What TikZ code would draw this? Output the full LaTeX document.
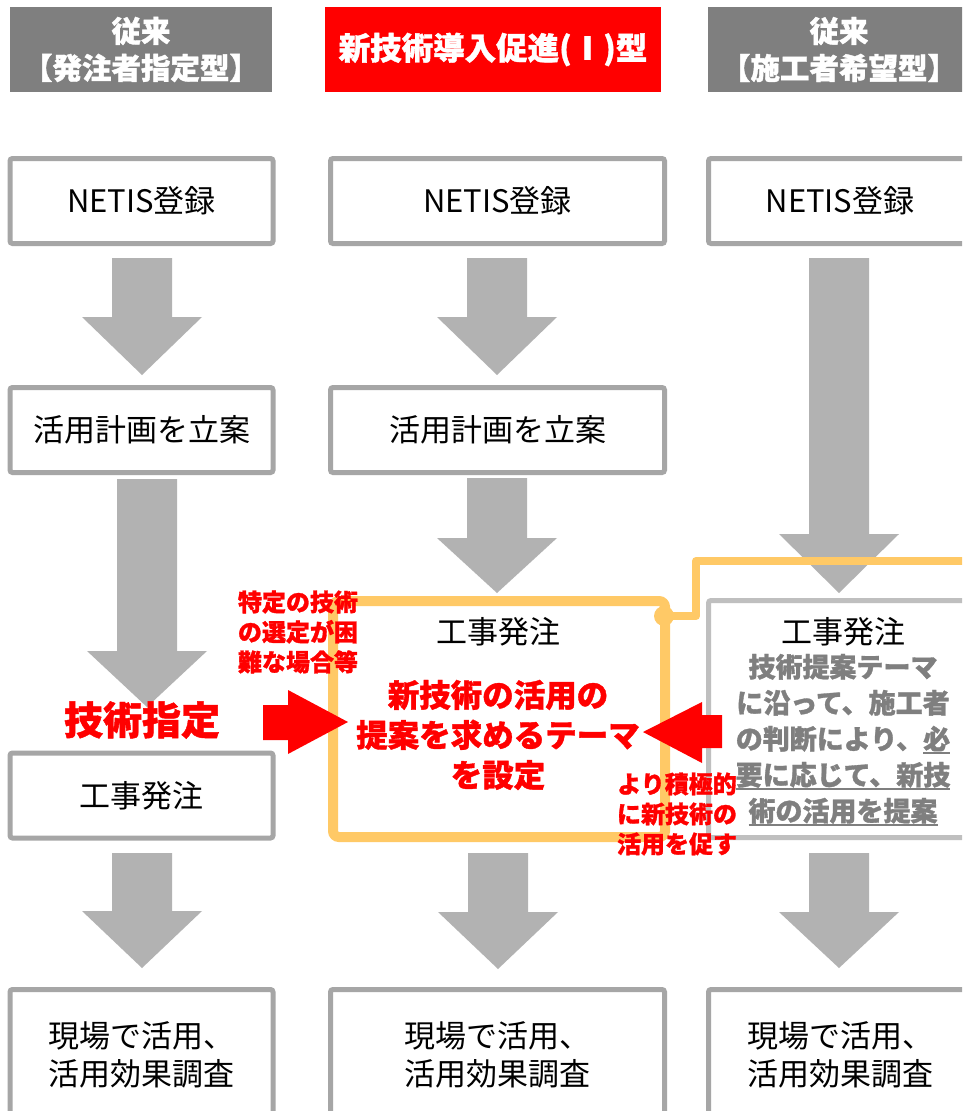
\documentclass[tikz,border=0pt]{standalone}
\usepackage{fontspec}
\setmainfont{Noto Sans CJK JP}[BoldFeatures={FakeBold=1.2}]
\definecolor{boxgray}{HTML}{A6A6A6}
\definecolor{boxlight}{HTML}{BFBFBF}
\definecolor{arrowgray}{HTML}{B2B2B2}
\definecolor{headgray}{HTML}{7F7F7F}
\definecolor{ylw}{HTML}{FFC966}
\definecolor{txtgray}{HTML}{7F7F7F}
\definecolor{redc}{HTML}{FF0000}
\newcommand\ulx[1]{\setbox0\hbox{#1}\rlap{\rule[-5pt]{\wd0}{2pt}}\box0}
\newcommand\garrow[4]{\fill[arrowgray] (#1-30,#2) -- (#1+30,#2) -- (#1+30,#3) -- (#1+60,#3) -- (#1,#4) -- (#1-60,#3) -- (#1-30,#3) -- cycle;}
\tikzset{
  box/.style={draw=boxgray, line width=5pt, rounded corners=2.5pt, fill=white, inner sep=0pt, align=center, font=\fontsize{31}{38}\selectfont},
  boxn/.style={box, minimum width=263pt, minimum height=85pt},
  boxw/.style={box, minimum width=334pt, minimum height=85pt},
  head/.style={fill=headgray, text=white, minimum height=85pt, inner sep=0pt, align=center, font=\bfseries\fontsize{29.5}{37}\selectfont},
  plain/.style={inner sep=0pt, align=center, font=\fontsize{31}{38}\selectfont},
  redsmall/.style={inner sep=0pt, align=center, text=redc, font=\bfseries\fontsize{24}{30}\selectfont},
  yline/.style={draw=ylw, line width=8pt},
}
\begin{document}
\begin{tikzpicture}[x=1pt,y=-1pt]
\clip (0,0) rectangle (962,1111);
\fill[white] (0,0) rectangle (962,1111);
% headers
\node[head, minimum width=262pt] (h1) at (141,49.5) {従来\\【発注者指定型】};
\node[head, fill=redc, minimum width=336pt, font=\bfseries\fontsize{31.5}{37}\selectfont] (h2) at (493,49.5) {新技術導入促進(Ⅰ)型};
\node[head, minimum width=262pt] (h3) at (839,49.5) {従来\\【施工者希望型】};
% gray block arrows
\garrow{142}{258}{317}{375}
\garrow{497}{258}{317}{375}
\garrow{839}{258}{534}{593}
\garrow{147}{479}{651}{707}
\garrow{497}{478}{538}{593}
\garrow{142}{853}{911}{968}
\garrow{498}{853}{912}{969}
\garrow{839}{853}{912}{968}
% row 1
\node[boxn] (a1) at (141.5,201) {NETIS登録};
\node[boxw] (b1) at (497.5,201) {NETIS登録};
\node[boxn] (c1) at (840,201) {NETIS登録};
% row 2
\node[boxn] (a2) at (141.5,430) {活用計画を立案};
\node[boxw] (b2) at (497.5,430) {活用計画を立案};
% row 3
\node[boxn] (a3) at (141.5,795.5) {工事発注};
\node[box, draw=boxlight, minimum width=263pt, minimum height=237pt] (c3) at (840,719) {};
% yellow connector
\coordinate (jn) at (664,616);
\coordinate (jc) at (696,614);
\coordinate (jt) at (696,561);
\coordinate (je) at (990,561);
\draw[yline, line join=round] (jn) -- (jn -| jc) -- (jt) -- (je);
\node[draw=ylw, line width=10pt, rounded corners=6pt, minimum width=332pt, minimum height=236pt, inner sep=0pt] (b3) at (499,719) {};
\fill[ylw] (jn) circle (10);
% row 4
\node[boxn, minimum height=130pt] (a4) at (141.5,1054.5) {現場で活用、\\活用効果調査};
\node[boxw, minimum height=130pt] (b4) at (497.5,1054.5) {現場で活用、\\活用効果調査};
\node[boxn, minimum height=130pt] (c4) at (840,1054.5) {現場で活用、\\活用効果調査};
% red arrows
\fill[redc] (263,705) -- (288,705) -- (288,690) -- (348,722) -- (288,754) -- (288,740) -- (263,740) -- cycle;
\fill[redc] (722,715) -- (702,715) -- (702,702) -- (643,732) -- (702,763) -- (702,748) -- (722,748) -- cycle;
% texts
\node[plain] (bk) at (498,632) {工事発注};
\node[inner sep=0pt, align=center, text=redc, font=\bfseries\fontsize{31.5}{40}\selectfont] (theme) at (498,735) {新技術の活用の\\提案を求めるテーマ\\を設定};
\node[plain] (ck) at (843,632) {工事発注};
\node[inner sep=0pt, align=center, text=txtgray, font=\bfseries\fontsize{27}{36}\selectfont] (ct) at (843,740) {技術提案テーマ\\に沿って、施工者\\の判断により、\ulx{必}\\\ulx{要に応じて、新技}\\\ulx{術の活用を提案}};
\node[inner sep=0pt, text=redc, font=\bfseries\fontsize{39}{40}\selectfont] (sitei) at (142,720) {技術指定};
\node[redsmall] (tokutei) at (298,632) {特定の技術\\の選定が困\\難な場合等};
\node[redsmall] (sekkyoku) at (677,814) {より積極的\\に新技術の\\活用を促す};
\end{tikzpicture}
\end{document}
